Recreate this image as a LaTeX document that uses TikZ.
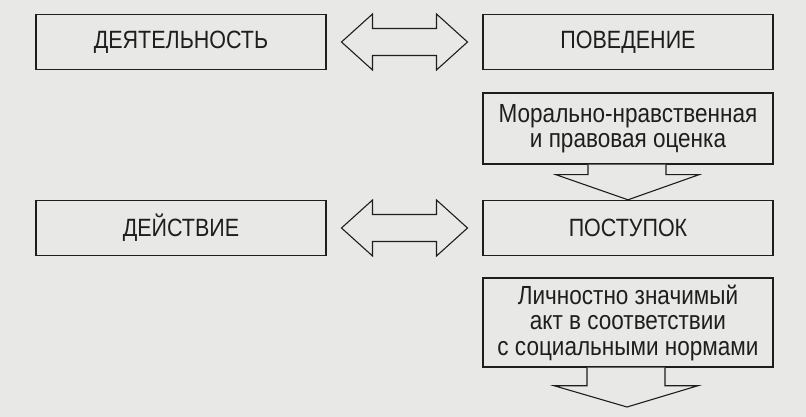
\documentclass[tikz,border=0pt]{standalone}
\usepackage{fontspec}
\setmainfont{Liberation Sans}[FakeStretch=0.86]
\usetikzlibrary{calc}
\definecolor{paper}{RGB}{232,232,230}
\definecolor{ink}{RGB}{30,30,30}
\tikzset{
  box/.style={draw=ink, line width=1.4pt, fill=paper, inner sep=0pt, align=center,
    text=ink, font=\fontsize{25}{25.5}\selectfont, minimum width=290pt},
  textbox/.style={box, font=\fontsize{26.2}{25.5}\selectfont},
  blockarrow/.style={draw=ink, line width=1.1pt, fill=paper, line join=miter},
}
\begin{document}
\begin{tikzpicture}[x=1pt,y=-1pt]
\fill[paper] (0,0) rectangle (806,417);
\useasboundingbox (0,0) rectangle (806,417);

\node[box, minimum height=55pt] (A) at (181,42) {ДЕЯТЕЛЬНОСТЬ};
\node[box, minimum height=55pt] (B) at (628,42) {ПОВЕДЕНИЕ};
\node[textbox, minimum height=71pt] (C) at (628,128.5) {Морально-нравственная\\и правовая оценка};
\node[box, minimum height=55pt] (D) at (181,228) {ДЕЙСТВИЕ};
\node[box, minimum height=55pt] (E) at (628,228) {ПОСТУПОК};
\node[textbox, minimum height=89pt] (F) at (628,322.5) {Личностно значимый\\акт в соответствии\\с социальными нормами};
\coordinate (G) at (627,407);

% double arrows
\foreach \l/\r in {A/B, D/E}{
  \coordinate (m) at ($(\l.east)!0.5!(\r.west)$);
  \draw[blockarrow] ($(m)+(-63,0)$) -- ($(m)+(-32,-28)$) -- ($(m)+(-32,-13.5)$)
    -- ($(m)+(32,-13.5)$) -- ($(m)+(32,-28)$) -- ($(m)+(63,0)$)
    -- ($(m)+(32,28)$) -- ($(m)+(32,13.5)$) -- ($(m)+(-32,13.5)$)
    -- ($(m)+(-32,28)$) -- cycle;
}

% down arrows
\draw[blockarrow] ($(C.south)+(-40,0)$) -- ($(C.south)+(-40,10)$) -- ($(C.south)+(-72,10)$)
  -- (E.north) -- ($(C.south)+(71,10)$) -- ($(C.south)+(38,10)$) -- ($(C.south)+(38,0)$);
\draw[blockarrow] ($(F.south)+(-41,0)$) -- ($(F.south)+(-41,18)$) -- ($(F.south)+(-74,18)$)
  -- (G) -- ($(F.south)+(70,18)$) -- ($(F.south)+(37,18)$) -- ($(F.south)+(37,0)$);
\end{tikzpicture}
\end{document}
